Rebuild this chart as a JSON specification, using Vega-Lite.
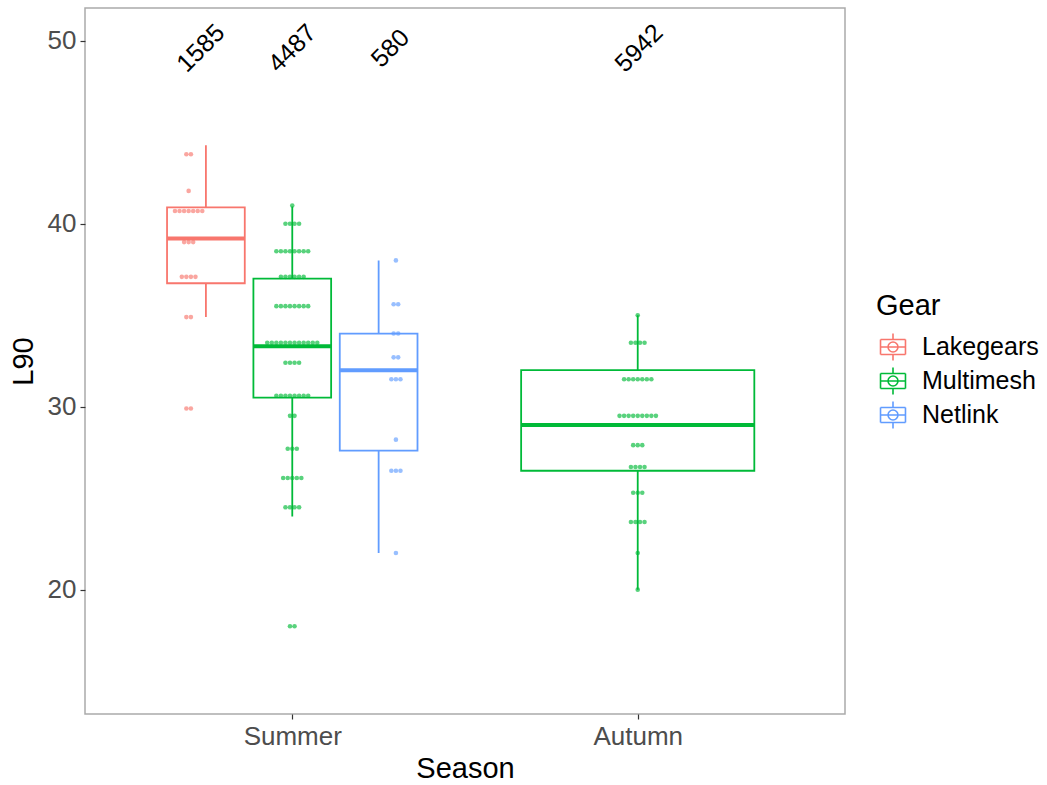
{
  "$schema": "https://vega.github.io/schema/vega-lite/v6.json",
  "width": 760,
  "height": 706,
  "autosize": {"type": "none"},
  "padding": {"left": 85, "top": 8, "right": 202, "bottom": 71},
  "background": "white",
  "datasets": {
    "boxes": [
      {"Season": "Summer", "Gear": "Lakegears", "lower": 34.9, "q1": 36.75, "median": 39.2, "q3": 40.9, "upper": 44.3, "n": 1585},
      {"Season": "Summer", "Gear": "Multimesh", "lower": 24.0, "q1": 30.5, "median": 33.3, "q3": 37.0, "upper": 40.95, "n": 4487},
      {"Season": "Summer", "Gear": "Netlink", "lower": 22.0, "q1": 27.6, "median": 32.0, "q3": 34.0, "upper": 38.0, "n": 580},
      {"Season": "Autumn", "Gear": "Multimesh", "lower": 20.0, "q1": 26.5, "median": 29.0, "q3": 32.0, "upper": 35.0, "n": 5942}
    ],
    "dots": [
      {"Season": "Summer", "Gear": "Lakegears", "L90": 43.8},
      {"Season": "Summer", "Gear": "Lakegears", "L90": 43.8},
      {"Season": "Summer", "Gear": "Lakegears", "L90": 41.8},
      {"Season": "Summer", "Gear": "Lakegears", "L90": 40.7},
      {"Season": "Summer", "Gear": "Lakegears", "L90": 40.7},
      {"Season": "Summer", "Gear": "Lakegears", "L90": 40.7},
      {"Season": "Summer", "Gear": "Lakegears", "L90": 40.7},
      {"Season": "Summer", "Gear": "Lakegears", "L90": 40.7},
      {"Season": "Summer", "Gear": "Lakegears", "L90": 40.7},
      {"Season": "Summer", "Gear": "Lakegears", "L90": 40.7},
      {"Season": "Summer", "Gear": "Lakegears", "L90": 39.0},
      {"Season": "Summer", "Gear": "Lakegears", "L90": 39.0},
      {"Season": "Summer", "Gear": "Lakegears", "L90": 39.0},
      {"Season": "Summer", "Gear": "Lakegears", "L90": 37.1},
      {"Season": "Summer", "Gear": "Lakegears", "L90": 37.1},
      {"Season": "Summer", "Gear": "Lakegears", "L90": 37.1},
      {"Season": "Summer", "Gear": "Lakegears", "L90": 37.1},
      {"Season": "Summer", "Gear": "Lakegears", "L90": 34.9},
      {"Season": "Summer", "Gear": "Lakegears", "L90": 34.9},
      {"Season": "Summer", "Gear": "Lakegears", "L90": 29.9},
      {"Season": "Summer", "Gear": "Lakegears", "L90": 29.9},
      {"Season": "Summer", "Gear": "Multimesh", "L90": 41.0},
      {"Season": "Summer", "Gear": "Multimesh", "L90": 40.0},
      {"Season": "Summer", "Gear": "Multimesh", "L90": 40.0},
      {"Season": "Summer", "Gear": "Multimesh", "L90": 40.0},
      {"Season": "Summer", "Gear": "Multimesh", "L90": 40.0},
      {"Season": "Summer", "Gear": "Multimesh", "L90": 38.5},
      {"Season": "Summer", "Gear": "Multimesh", "L90": 38.5},
      {"Season": "Summer", "Gear": "Multimesh", "L90": 38.5},
      {"Season": "Summer", "Gear": "Multimesh", "L90": 38.5},
      {"Season": "Summer", "Gear": "Multimesh", "L90": 38.5},
      {"Season": "Summer", "Gear": "Multimesh", "L90": 38.5},
      {"Season": "Summer", "Gear": "Multimesh", "L90": 38.5},
      {"Season": "Summer", "Gear": "Multimesh", "L90": 38.5},
      {"Season": "Summer", "Gear": "Multimesh", "L90": 37.1},
      {"Season": "Summer", "Gear": "Multimesh", "L90": 37.1},
      {"Season": "Summer", "Gear": "Multimesh", "L90": 37.1},
      {"Season": "Summer", "Gear": "Multimesh", "L90": 37.1},
      {"Season": "Summer", "Gear": "Multimesh", "L90": 37.1},
      {"Season": "Summer", "Gear": "Multimesh", "L90": 37.1},
      {"Season": "Summer", "Gear": "Multimesh", "L90": 35.5},
      {"Season": "Summer", "Gear": "Multimesh", "L90": 35.5},
      {"Season": "Summer", "Gear": "Multimesh", "L90": 35.5},
      {"Season": "Summer", "Gear": "Multimesh", "L90": 35.5},
      {"Season": "Summer", "Gear": "Multimesh", "L90": 35.5},
      {"Season": "Summer", "Gear": "Multimesh", "L90": 35.5},
      {"Season": "Summer", "Gear": "Multimesh", "L90": 35.5},
      {"Season": "Summer", "Gear": "Multimesh", "L90": 35.5},
      {"Season": "Summer", "Gear": "Multimesh", "L90": 33.5},
      {"Season": "Summer", "Gear": "Multimesh", "L90": 33.5},
      {"Season": "Summer", "Gear": "Multimesh", "L90": 33.5},
      {"Season": "Summer", "Gear": "Multimesh", "L90": 33.5},
      {"Season": "Summer", "Gear": "Multimesh", "L90": 33.5},
      {"Season": "Summer", "Gear": "Multimesh", "L90": 33.5},
      {"Season": "Summer", "Gear": "Multimesh", "L90": 33.5},
      {"Season": "Summer", "Gear": "Multimesh", "L90": 33.5},
      {"Season": "Summer", "Gear": "Multimesh", "L90": 33.5},
      {"Season": "Summer", "Gear": "Multimesh", "L90": 33.5},
      {"Season": "Summer", "Gear": "Multimesh", "L90": 33.5},
      {"Season": "Summer", "Gear": "Multimesh", "L90": 33.5},
      {"Season": "Summer", "Gear": "Multimesh", "L90": 32.4},
      {"Season": "Summer", "Gear": "Multimesh", "L90": 32.4},
      {"Season": "Summer", "Gear": "Multimesh", "L90": 32.4},
      {"Season": "Summer", "Gear": "Multimesh", "L90": 32.4},
      {"Season": "Summer", "Gear": "Multimesh", "L90": 30.6},
      {"Season": "Summer", "Gear": "Multimesh", "L90": 30.6},
      {"Season": "Summer", "Gear": "Multimesh", "L90": 30.6},
      {"Season": "Summer", "Gear": "Multimesh", "L90": 30.6},
      {"Season": "Summer", "Gear": "Multimesh", "L90": 30.6},
      {"Season": "Summer", "Gear": "Multimesh", "L90": 30.6},
      {"Season": "Summer", "Gear": "Multimesh", "L90": 30.6},
      {"Season": "Summer", "Gear": "Multimesh", "L90": 30.6},
      {"Season": "Summer", "Gear": "Multimesh", "L90": 29.5},
      {"Season": "Summer", "Gear": "Multimesh", "L90": 29.5},
      {"Season": "Summer", "Gear": "Multimesh", "L90": 27.7},
      {"Season": "Summer", "Gear": "Multimesh", "L90": 27.7},
      {"Season": "Summer", "Gear": "Multimesh", "L90": 27.7},
      {"Season": "Summer", "Gear": "Multimesh", "L90": 26.1},
      {"Season": "Summer", "Gear": "Multimesh", "L90": 26.1},
      {"Season": "Summer", "Gear": "Multimesh", "L90": 26.1},
      {"Season": "Summer", "Gear": "Multimesh", "L90": 26.1},
      {"Season": "Summer", "Gear": "Multimesh", "L90": 26.1},
      {"Season": "Summer", "Gear": "Multimesh", "L90": 24.5},
      {"Season": "Summer", "Gear": "Multimesh", "L90": 24.5},
      {"Season": "Summer", "Gear": "Multimesh", "L90": 24.5},
      {"Season": "Summer", "Gear": "Multimesh", "L90": 24.5},
      {"Season": "Summer", "Gear": "Multimesh", "L90": 18.0},
      {"Season": "Summer", "Gear": "Multimesh", "L90": 18.0},
      {"Season": "Summer", "Gear": "Netlink", "L90": 38.0},
      {"Season": "Summer", "Gear": "Netlink", "L90": 35.6},
      {"Season": "Summer", "Gear": "Netlink", "L90": 35.6},
      {"Season": "Summer", "Gear": "Netlink", "L90": 34.0},
      {"Season": "Summer", "Gear": "Netlink", "L90": 34.0},
      {"Season": "Summer", "Gear": "Netlink", "L90": 32.7},
      {"Season": "Summer", "Gear": "Netlink", "L90": 32.7},
      {"Season": "Summer", "Gear": "Netlink", "L90": 31.5},
      {"Season": "Summer", "Gear": "Netlink", "L90": 31.5},
      {"Season": "Summer", "Gear": "Netlink", "L90": 31.5},
      {"Season": "Summer", "Gear": "Netlink", "L90": 28.2},
      {"Season": "Summer", "Gear": "Netlink", "L90": 26.5},
      {"Season": "Summer", "Gear": "Netlink", "L90": 26.5},
      {"Season": "Summer", "Gear": "Netlink", "L90": 26.5},
      {"Season": "Summer", "Gear": "Netlink", "L90": 22.0},
      {"Season": "Autumn", "Gear": "Multimesh", "L90": 35.0},
      {"Season": "Autumn", "Gear": "Multimesh", "L90": 33.5},
      {"Season": "Autumn", "Gear": "Multimesh", "L90": 33.5},
      {"Season": "Autumn", "Gear": "Multimesh", "L90": 33.5},
      {"Season": "Autumn", "Gear": "Multimesh", "L90": 33.5},
      {"Season": "Autumn", "Gear": "Multimesh", "L90": 31.5},
      {"Season": "Autumn", "Gear": "Multimesh", "L90": 31.5},
      {"Season": "Autumn", "Gear": "Multimesh", "L90": 31.5},
      {"Season": "Autumn", "Gear": "Multimesh", "L90": 31.5},
      {"Season": "Autumn", "Gear": "Multimesh", "L90": 31.5},
      {"Season": "Autumn", "Gear": "Multimesh", "L90": 31.5},
      {"Season": "Autumn", "Gear": "Multimesh", "L90": 31.5},
      {"Season": "Autumn", "Gear": "Multimesh", "L90": 29.5},
      {"Season": "Autumn", "Gear": "Multimesh", "L90": 29.5},
      {"Season": "Autumn", "Gear": "Multimesh", "L90": 29.5},
      {"Season": "Autumn", "Gear": "Multimesh", "L90": 29.5},
      {"Season": "Autumn", "Gear": "Multimesh", "L90": 29.5},
      {"Season": "Autumn", "Gear": "Multimesh", "L90": 29.5},
      {"Season": "Autumn", "Gear": "Multimesh", "L90": 29.5},
      {"Season": "Autumn", "Gear": "Multimesh", "L90": 29.5},
      {"Season": "Autumn", "Gear": "Multimesh", "L90": 29.5},
      {"Season": "Autumn", "Gear": "Multimesh", "L90": 27.9},
      {"Season": "Autumn", "Gear": "Multimesh", "L90": 27.9},
      {"Season": "Autumn", "Gear": "Multimesh", "L90": 27.9},
      {"Season": "Autumn", "Gear": "Multimesh", "L90": 26.7},
      {"Season": "Autumn", "Gear": "Multimesh", "L90": 26.7},
      {"Season": "Autumn", "Gear": "Multimesh", "L90": 26.7},
      {"Season": "Autumn", "Gear": "Multimesh", "L90": 26.7},
      {"Season": "Autumn", "Gear": "Multimesh", "L90": 25.3},
      {"Season": "Autumn", "Gear": "Multimesh", "L90": 25.3},
      {"Season": "Autumn", "Gear": "Multimesh", "L90": 25.3},
      {"Season": "Autumn", "Gear": "Multimesh", "L90": 23.7},
      {"Season": "Autumn", "Gear": "Multimesh", "L90": 23.7},
      {"Season": "Autumn", "Gear": "Multimesh", "L90": 23.7},
      {"Season": "Autumn", "Gear": "Multimesh", "L90": 23.7},
      {"Season": "Autumn", "Gear": "Multimesh", "L90": 22.0},
      {"Season": "Autumn", "Gear": "Multimesh", "L90": 20.0}
    ]
  },
  "config": {
    "font": "Liberation Sans",
    "view": {"stroke": "#ABABAB", "strokeWidth": 1.5},
    "axis": {
      "grid": false,
      "domain": false,
      "tickColor": "#333333",
      "tickSize": 5,
      "tickWidth": 1.2,
      "labelFont": "Liberation Sans",
      "labelFontSize": 26,
      "labelColor": "#4D4D4D",
      "labelPadding": 4,
      "titleFont": "Liberation Sans",
      "titleFontSize": 29,
      "titleFontWeight": "normal",
      "titleColor": "black"
    },
    "axisX": {"titlePadding": 5},
    "axisY": {"titlePadding": 9},
    "legend": {
      "padding": 0,
      "rowPadding": 0,
      "titleFont": "Liberation Sans",
      "titleFontSize": 29,
      "titleFontWeight": "normal",
      "titleColor": "black",
      "titlePadding": 9,
      "labelFont": "Liberation Sans",
      "labelFontSize": 25,
      "labelColor": "black",
      "labelOffset": 12,
      "symbolSize": 1024
    }
  },
  "layer": [
    {
      "data": {"name": "boxes"},
      "transform": [
        {"calculate": "datum.Season === 'Autumn' ? 2 : datum.Gear === 'Lakegears' ? 0.75 : datum.Gear === 'Multimesh' ? 1 : 1.25", "as": "xc"}
      ],
      "mark": {"type": "rule", "strokeWidth": 1.8},
      "encoding": {
        "x": {"field": "xc", "type": "quantitative", "title": "Season",
              "scale": {"domain": [0.4, 2.6], "nice": false, "zero": false},
              "axis": {"values": [1, 2], "labelExpr": "datum.value === 1 ? 'Summer' : 'Autumn'"}},
        "y": {"field": "lower", "type": "quantitative", "title": "L90",
              "scale": {"domain": [13.2, 51.8], "nice": false, "zero": false},
              "axis": {"values": [20, 30, 40, 50]}},
        "y2": {"field": "upper"},
        "stroke": {"field": "Gear", "type": "nominal",
                   "scale": {"domain": ["Lakegears", "Multimesh", "Netlink"], "range": ["#F8766D", "#00BA38", "#619CFF"]}}
      }
    },
    {
      "data": {"name": "boxes"},
      "transform": [
        {"calculate": "datum.Season === 'Autumn' ? 2 : datum.Gear === 'Lakegears' ? 0.75 : datum.Gear === 'Multimesh' ? 1 : 1.25", "as": "xc"},
        {"calculate": "datum.Season === 'Autumn' ? 0.3375 : 0.1125", "as": "hw"},
        {"calculate": "datum.xc - datum.hw", "as": "x0"},
        {"calculate": "datum.xc + datum.hw", "as": "x1"}
      ],
      "mark": {"type": "rect", "fill": "white", "strokeWidth": 1.8},
      "encoding": {
        "x": {"field": "x0", "type": "quantitative", "title": "Season"},
        "x2": {"field": "x1"},
        "y": {"field": "q1", "type": "quantitative", "title": "L90"},
        "y2": {"field": "q3"},
        "stroke": {"field": "Gear", "type": "nominal",
                   "legend": {
                     "title": "Gear",
                     "orient": "none",
                     "legendX": 791,
                     "legendY": 284,
                     "symbolType": "M-0.78,-0.47H0.78 M0.78,-0.47V0.47 M0.78,0.47H-0.78 M-0.78,0.47V-0.47 M-0.78,0H0.78 M0,-0.47V-0.85 M0,0.47V0.85 M0.31,0A0.31,0.31 0 1,1 -0.31,0A0.31,0.31 0 1,1 0.31,0Z",
                     "symbolStrokeWidth": 1.6,
                     "encode": {
                       "symbols": {
                         "fill": {"condition": [
                           {"test": "datum.value === 'Lakegears'", "value": "#F8766D"},
                           {"test": "datum.value === 'Multimesh'", "value": "#00BA38"}
                         ], "value": "#619CFF"},
                         "fillOpacity": {"value": 0.6}
                       }
                     }
                   }}
      }
    },
    {
      "data": {"name": "boxes"},
      "transform": [
        {"calculate": "datum.Season === 'Autumn' ? 2 : datum.Gear === 'Lakegears' ? 0.75 : datum.Gear === 'Multimesh' ? 1 : 1.25", "as": "xc"},
        {"calculate": "datum.Season === 'Autumn' ? 0.3375 : 0.1125", "as": "hw"},
        {"calculate": "datum.xc - datum.hw", "as": "x0"},
        {"calculate": "datum.xc + datum.hw", "as": "x1"}
      ],
      "mark": {"type": "rule", "strokeWidth": 4},
      "encoding": {
        "x": {"field": "x0", "type": "quantitative", "title": "Season"},
        "x2": {"field": "x1"},
        "y": {"field": "median", "type": "quantitative", "title": "L90"},
        "stroke": {"field": "Gear", "type": "nominal"}
      }
    },
    {
      "data": {"name": "dots"},
      "transform": [
        {"window": [{"op": "row_number", "as": "k"}, {"op": "count", "as": "m"}],
         "groupby": ["Season", "Gear", "L90"], "frame": [null, null]},
        {"calculate": "datum.Season === 'Autumn' ? 2 : datum.Gear === 'Lakegears' ? 0.7 : datum.Gear === 'Multimesh' ? 1 : 1.3", "as": "base"},
        {"calculate": "datum.base + (datum.k - (datum.m + 1) / 2) * 0.01317", "as": "dx"}
      ],
      "mark": {"type": "circle", "size": 21, "fillOpacity": 0.65, "strokeWidth": 0},
      "encoding": {
        "x": {"field": "dx", "type": "quantitative", "title": "Season"},
        "y": {"field": "L90", "type": "quantitative", "title": "L90"},
        "fill": {"field": "Gear", "type": "nominal", "legend": null,
                 "scale": {"range": ["#F8766D", "#00BA38", "#619CFF"]}}
      }
    },
    {
      "data": {"name": "boxes"},
      "transform": [
        {"calculate": "datum.Season === 'Autumn' ? 2.004 : datum.Gear === 'Lakegears' ? 0.735 : datum.Gear === 'Multimesh' ? 1 : 1.284", "as": "lx"}
      ],
      "mark": {"type": "text", "angle": -45, "fontSize": 25, "align": "center", "baseline": "middle", "color": "black"},
      "encoding": {
        "x": {"field": "lx", "type": "quantitative", "title": "Season"},
        "y": {"datum": 49.6, "type": "quantitative"},
        "text": {"field": "n", "type": "quantitative", "format": "d"}
      }
    }
  ]
}
